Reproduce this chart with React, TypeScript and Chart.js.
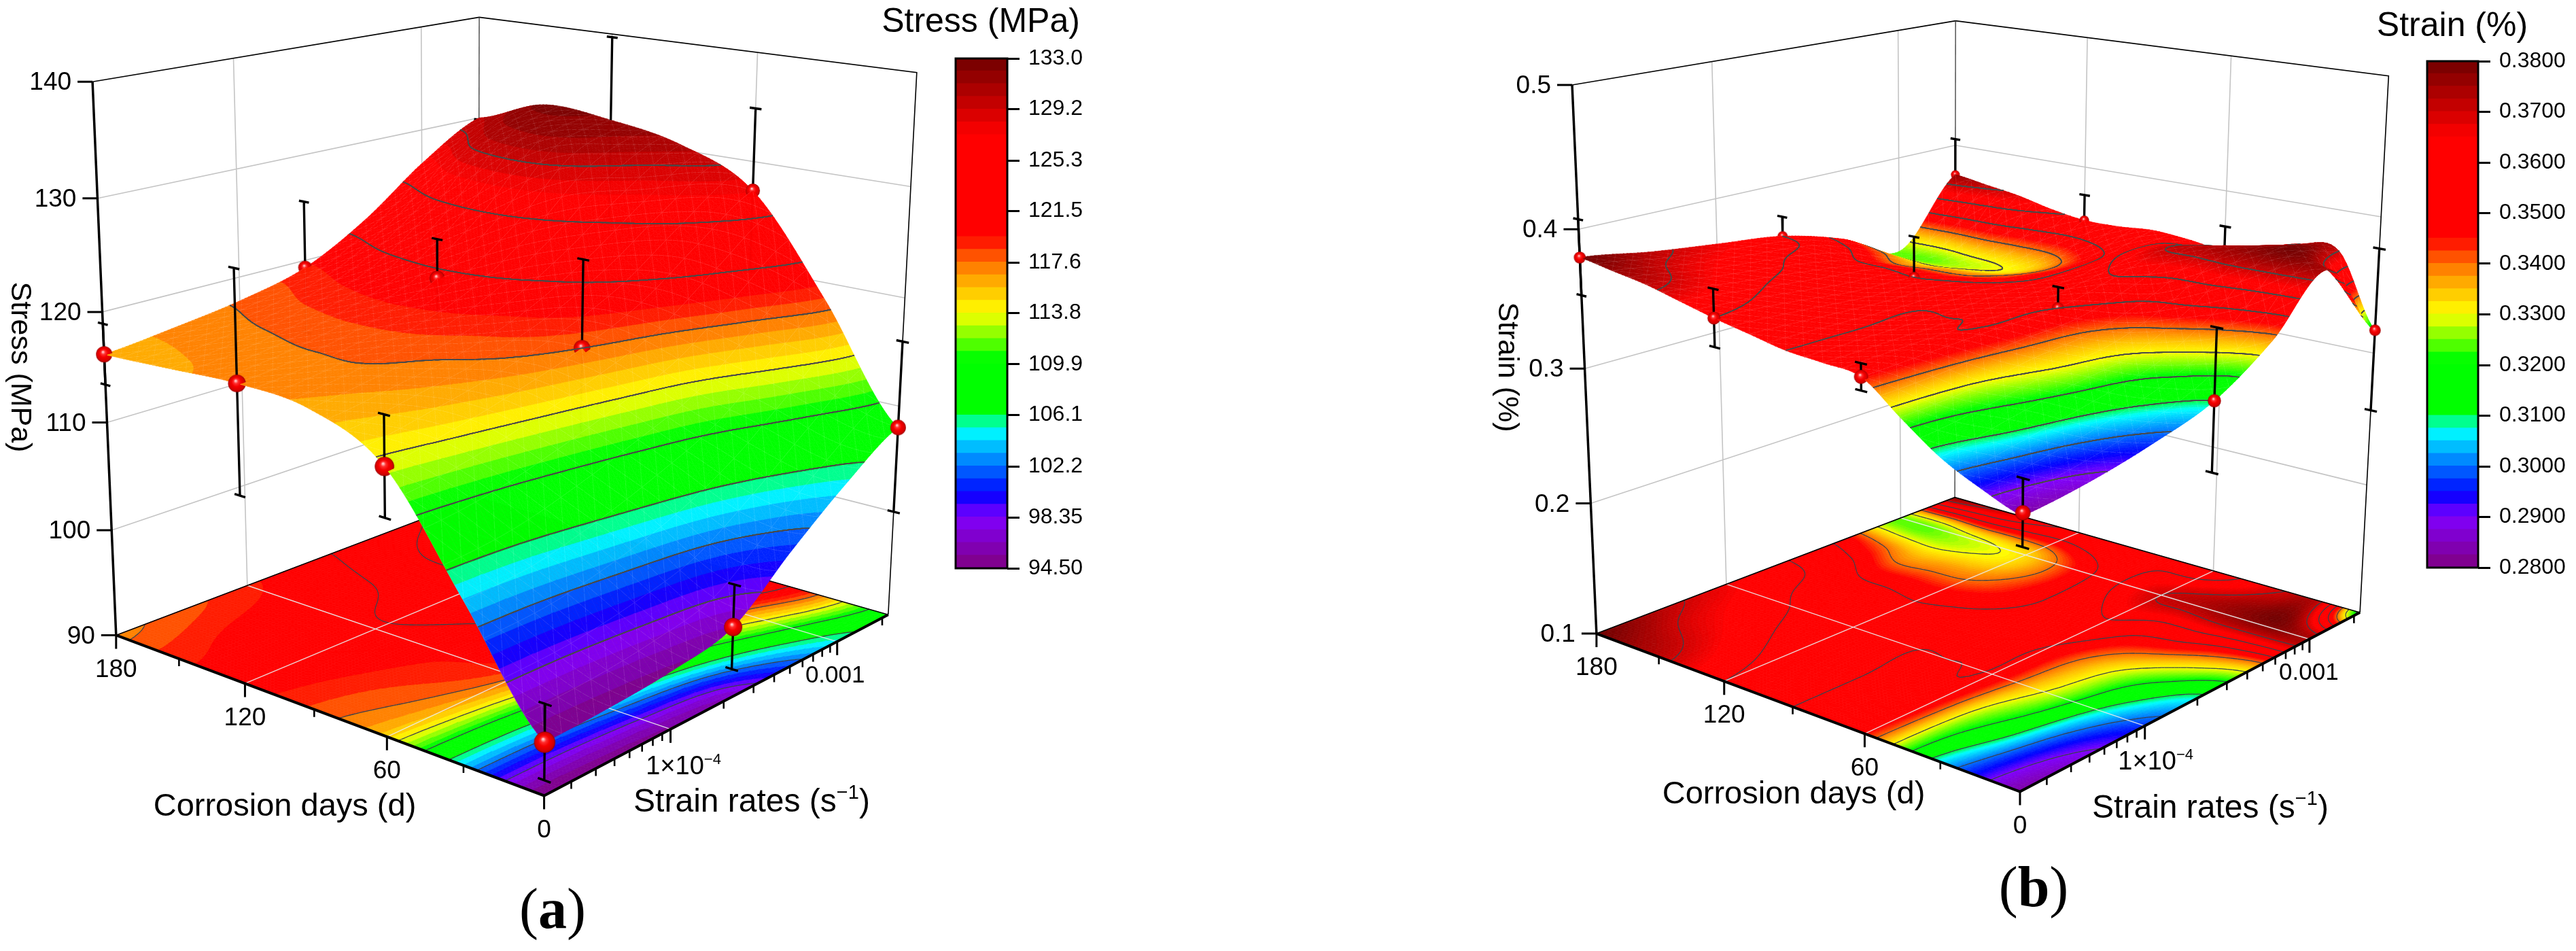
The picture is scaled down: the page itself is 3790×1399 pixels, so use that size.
import React, { useEffect, useRef } from 'react';
import { Chart, registerables } from 'chart.js';
Chart.register(...registerables);

// ---------- data ----------
const measuredDays = [180, 120, 60, 0];
const measuredRates = [2.2e-5, 2.2e-4, 2.2e-3];
const stressMeans = [[116.2, 119.3, 128.8], [116.8, 121, 131], [113.2, 117.6, 127.3], [94.5, 96.4, 108]];
const stressErrors = [[2.75, 6.3, 1], [9.8, 3.6, 8.7], [4.3, 7.8, 7.6], [3.2, 3.8, 8]];
const strainMeans = [[0.38, 0.36, 0.376], [0.36, 0.35, 0.358], [0.345, 0.35, 0.355], [0.285, 0.31, 0.317]];
const strainErrors = [[0.027, 0.015, 0.029], [0.02, 0.03, 0.02], [0.009, 0.015, 0.018], [0.022, 0.05, 0.06]];

// stress surface: rows are days 180,150,...,0; columns are seven log-spaced rates
const stressGrid = [
  [116.2, 116.9, 117.8, 119.3, 122.5, 126.8, 130],
  [116.5, 117.2, 118.5, 120.5, 124.5, 130, 132.3],
  [116.8, 117.5, 118.8, 121, 125, 130.5, 131.8],
  [116.3, 117.2, 118.2, 120.2, 123.5, 127.5, 130.5],
  [113.2, 114.3, 115.8, 117.6, 120, 123.8, 127.3],
  [104, 104.5, 106, 108, 110.5, 114.5, 118.4],
  [94.5, 94.7, 95.2, 96.4, 100.8, 104.8, 108],
];
const stressFloorGrid = [
  [117.3, 118.2, 119.3, 120.8, 123, 125.5, 130],
  [119.2, 120, 120.6, 121.6, 125.5, 130, 132.3],
  [120, 120.4, 121.3, 122.5, 125, 130.5, 131.8],
  [118.3, 119, 120, 121.4, 123.5, 127.5, 130.5],
  [115, 116, 117.7, 119.5, 121, 124, 127.3],
  [104, 104.5, 106, 108, 110.5, 114.5, 118.4],
  [94.5, 94.7, 95.2, 96.4, 100.8, 104.8, 108],
];
// strain surface: rows are days 180,165,...,0; columns are seven log-spaced rates
const strainGrid = [
  [0.38, 0.372, 0.366, 0.36, 0.346, 0.325, 0.376],
  [0.376, 0.368, 0.363, 0.358, 0.342, 0.325, 0.372],
  [0.372, 0.365, 0.36, 0.352, 0.337, 0.328, 0.368],
  [0.366, 0.361, 0.356, 0.351, 0.338, 0.33, 0.362],
  [0.36, 0.357, 0.352, 0.35, 0.339, 0.333, 0.358],
  [0.355, 0.353, 0.351, 0.351, 0.343, 0.341, 0.358],
  [0.35, 0.35, 0.35, 0.352, 0.349, 0.35, 0.36],
  [0.348, 0.349, 0.35, 0.352, 0.355, 0.362, 0.358],
  [0.345, 0.347, 0.349, 0.35, 0.36, 0.37, 0.355],
  [0.325, 0.328, 0.335, 0.34, 0.353, 0.373, 0.362],
  [0.306, 0.315, 0.323, 0.33, 0.35, 0.376, 0.37],
  [0.293, 0.298, 0.307, 0.32, 0.343, 0.378, 0.37],
  [0.283, 0.288, 0.297, 0.31, 0.337, 0.374, 0.317],
];

const majorDays = [180, 120, 60, 0];
const minorDays = [150, 90, 30];
const dayLabels = ['180', '120', '60', '0'];
const rateRange = [2.2e-5, 2.2e-3];
const majorRates = [2.2e-5, 1e-4, 1e-3];
const minorRates = [3e-5, 4e-5, 5e-5, 6e-5, 7e-5, 8e-5, 9e-5, 2e-4, 3e-4, 4e-4, 5e-4, 6e-4, 7e-4, 8e-4, 9e-4, 2e-3];
const stressTicks = [90, 100, 110, 120, 130, 140];
const stressTickLabels = ['90', '100', '110', '120', '130', '140'];
const strainTicks = [0.1, 0.2, 0.3, 0.4, 0.5];
const strainTickLabels = ['0.1', '0.2', '0.3', '0.4', '0.5'];
const stressBarTicks = [94.5, 98.35, 102.2, 106.1, 109.9, 113.8, 117.6, 121.5, 125.3, 129.2, 133];
const stressBarLabels = ['94.50', '98.35', '102.2', '106.1', '109.9', '113.8', '117.6', '121.5', '125.3', '129.2', '133.0'];
const strainBarTicks = [0.28, 0.29, 0.3, 0.31, 0.32, 0.33, 0.34, 0.35, 0.36, 0.37, 0.38];
const strainBarLabels = ['0.2800', '0.2900', '0.3000', '0.3100', '0.3200', '0.3300', '0.3400', '0.3500', '0.3600', '0.3700', '0.3800'];

// ---------- helpers ----------
const SANS = '"Liberation Sans", Arial, sans-serif';
const SERIF = '"Liberation Serif", serif';
const stops: [number, number[]][] = [
  [0, [128, 0, 128]], [0.1, [128, 0, 255]], [0.145, [0, 0, 255]], [0.27, [0, 255, 255]], [0.31, [0, 255, 0]],
  [0.41, [0, 255, 0]], [0.5, [255, 255, 0]], [0.55, [255, 190, 0]], [0.6, [255, 110, 0]], [0.65, [255, 0, 0]], [0.85, [255, 0, 0]], [1, [112, 0, 0]],
];
function cmap(t: number) {
  t = Math.max(0, Math.min(1, t));
  for (let k = 1; k < stops.length; k++) {
    if (t <= stops[k][0]) {
      const [a, ca] = stops[k - 1], [b, cb] = stops[k];
      const f = (t - a) / (b - a || 1);
      return `rgb(${ca.map((c, i) => Math.round(c + (cb[i] - c) * f)).join(',')})`;
    }
  }
  return 'rgb(112,0,0)';
}
function solve(A: number[][], b: number[]) {
  const n = b.length;
  const M = A.map((r, i) => [...r, b[i]]);
  for (let c = 0; c < n; c++) {
    let p = c;
    for (let r = c + 1; r < n; r++) if (Math.abs(M[r][c]) > Math.abs(M[p][c])) p = r;
    [M[c], M[p]] = [M[p], M[c]];
    for (let r = 0; r < n; r++) {
      if (r === c) continue;
      const f = M[r][c] / M[c][c];
      for (let k = c; k <= n; k++) M[r][k] -= f * M[c][k];
    }
  }
  return M.map((r, i) => r[n] / r[i]);
}
function calibrate(c: number[][]) {
  const rows: number[][] = [], rhs: number[] = [];
  for (const [X, Y, Z, x0, y0] of c) {
    const x = x0 / 1000, y = y0 / 1000;
    rows.push([X, Y, Z, 1, 0, 0, 0, 0, -x * X, -x * Y, -x * Z]); rhs.push(x);
    rows.push([0, 0, 0, 0, X, Y, Z, 1, -y * X, -y * Y, -y * Z]); rhs.push(y);
  }
  const N = 11;
  const A = Array.from({ length: N }, (_, i) => Array.from({ length: N }, (_, j) => rows.reduce((s, r) => s + r[i] * r[j], 0)));
  const b = Array.from({ length: N }, (_, i) => rows.reduce((s, r, k) => s + r[i] * rhs[k], 0));
  const p = solve(A, b);
  return (s: number, v: number, w: number) => {
    const d = p[8] * s + p[9] * v + p[10] * w + 1;
    return { x: 1000 * (p[0] * s + p[1] * v + p[2] * w + p[3]) / d, y: 1000 * (p[4] * s + p[5] * v + p[6] * w + p[7]) / d };
  };
}
const cr = (a: number, b: number, c: number, d: number, t: number) =>
  0.5 * (2 * b + (c - a) * t + (2 * a - 5 * b + 4 * c - d) * t * t + (3 * b - a - 3 * c + d) * t * t * t);
function refine(grid: number[][], subR: number, subC: number) {
  const R = grid.length, C = grid[0].length;
  const at = (r: number, c: number) => grid[Math.max(0, Math.min(R - 1, r))][Math.max(0, Math.min(C - 1, c))];
  const out: number[][] = [];
  for (let i = 0; i <= (R - 1) * subR; i++) {
    const row: number[] = [];
    const r0 = Math.min(Math.floor(i / subR), R - 2), tr = i / subR - r0;
    for (let j = 0; j <= (C - 1) * subC; j++) {
      const c0 = Math.min(Math.floor(j / subC), C - 2), tc = j / subC - c0;
      const q = [-1, 0, 1, 2].map(k => cr(at(r0 - 1, c0 + k), at(r0, c0 + k), at(r0 + 1, c0 + k), at(r0 + 2, c0 + k), tr));
      row.push(cr(q[0], q[1], q[2], q[3], tc));
    }
    out.push(row);
  }
  return out;
}
function sphere(r: number) {
  const cv = document.createElement('canvas');
  const S = Math.ceil(2 * r + 2);
  cv.width = S; cv.height = S;
  const c = cv.getContext('2d')!;
  const g = c.createRadialGradient(S / 2 - r * 0.15, S / 2 - r * 0.3, r * 0.05, S / 2, S / 2, r);
  g.addColorStop(0, '#ffd0d0'); g.addColorStop(0.22, '#ff3030'); g.addColorStop(0.5, '#f50000');
  g.addColorStop(0.85, '#d40000'); g.addColorStop(1, '#950000');
  c.fillStyle = g;
  c.beginPath(); c.arc(S / 2, S / 2, r, 0, Math.PI * 2); c.fill();
  return cv;
}
type Piece = { t: string; font: string; dy?: number };
function textRun(ctx: CanvasRenderingContext2D, pieces: Piece[], cx: number, cy: number) {
  ctx.textBaseline = 'alphabetic'; ctx.textAlign = 'left';
  let W = 0;
  for (const p of pieces) { ctx.font = p.font; W += ctx.measureText(p.t).width; }
  let x = cx - W / 2;
  for (const p of pieces) { ctx.font = p.font; ctx.fillText(p.t, x, cy + (p.dy || 0)); x += ctx.measureText(p.t).width; }
}

// ---------- panel layout ----------
const MESH = 5;
const panelA: any = {
  xRange: [0, 1895], subR: 20, subC: 20,
  calib: [[0, 0, 1, 136, 119], [0, 0, 0, 169, 934], [0, 1, 1, 705, 27], [0, 1, 0, 704, 732], [1, 0, 0, 805, 1169], [1, 1, 1, 1349, 106], [1, 1, 0, 1311, 901],
    [1 / 3, 0, 0, 362, 1006], [2 / 3, 0, 0, 571, 1084], [1, 0.33, 0, 980, 1075], [1, 0.83, 0, 1229, 946]],
  zRange: [90, 140], grid: stressGrid, floorGrid: stressFloorGrid, means: stressMeans, errors: stressErrors,
  barRange: [94.5, 133], levels: stressBarTicks.slice(1, -1), bands: 40,
  zTicks: stressTicks, zLabels: stressTickLabels,
  zTitle: 'Stress (MPa)', zTitlePos: [29, 540],
  barTitle: 'Stress (MPa)', barTitlePos: [1443, 33],
  dayTitlePos: [419, 1200], rateTitlePos: [1106, 1194],
  rateLabelOffset: [[0, 0], [19, 66], [-3, 60]],
  panelLabel: 'a', panelLabelPos: [813, 1365],
  radius: [8.5, 13.5],
};
const panelB: any = {
  xRange: [1895, 3790], subR: 10, subC: 20,
  calib: [[0, 0, 1, 2313, 124], [0, 0, 0, 2348, 932], [0, 1, 1, 2877, 32], [0, 1, 0, 2877, 731], [1, 0, 0, 2977, 1162], [1, 1, 1, 3514.5, 111], [1, 1, 0, 3477, 898],
    [1 / 3, 0, 0, 2536, 1003], [2 / 3, 0, 0, 2745, 1078.5], [1, 0.33, 0, 3151, 1072], [1, 0.83, 0, 3393, 942]],
  zRange: [0.1, 0.5], grid: strainGrid, floorGrid: strainGrid, means: strainMeans, errors: strainErrors,
  barRange: [0.28, 0.38], levels: strainBarTicks.slice(1, -1), bands: 130,
  zTicks: strainTicks, zLabels: strainTickLabels,
  zTitle: 'Strain (%)', zTitlePos: [2217, 540],
  barTitle: 'Strain (%)', barTitlePos: [3608, 39],
  dayTitlePos: [2639, 1182], rateTitlePos: [3252, 1203],
  rateLabelOffset: [[0, 0], [16, 64], [-1, 60]],
  panelLabel: 'b', panelLabelPos: [2992, 1333],
  radius: [6.5, 10],
};

type V = { x: number; y: number; z: number };
function clipPoly(poly: V[], L: number, above: boolean) {
  const out: V[] = [];
  for (let k = 0; k < poly.length; k++) {
    const a = poly[k], b = poly[(k + 1) % poly.length];
    const ina = above ? a.z >= L : a.z <= L, inb = above ? b.z >= L : b.z <= L;
    if (ina) out.push(a);
    if (ina !== inb) {
      const f = (L - a.z) / (b.z - a.z);
      out.push({ x: a.x + (b.x - a.x) * f, y: a.y + (b.y - a.y) * f, z: L });
    }
  }
  return out;
}

function buildMain(canvas: HTMLCanvasElement, P: any) {
  const proj = calibrate(P.calib);
  const [zMin, zMax] = P.zRange;
  const W = (z: number) => (z - zMin) / (zMax - zMin);
  const S = (d: number) => (180 - d) / 180;
  const lr = (r: number) => (Math.log10(r) - Math.log10(rateRange[0])) / (Math.log10(rateRange[1]) - Math.log10(rateRange[0]));
  const F = refine(P.grid, P.subR, P.subC);
  const G = refine(P.floorGrid, P.subR, P.subC);
  const n = F.length - 1, m = F[0].length - 1;
  const GAP = { x: NaN, y: NaN };

  const list: any[] = [];
  const line = (data: any[], color: string, width: number, extra: any = {}) => {
    const d = { data, borderColor: color, backgroundColor: color, borderWidth: width, showLine: true, pointRadius: 0, tension: 0, ...extra };
    list.push(d);
    return d;
  };
  const seg = (segs: { x: number; y: number }[][]) => segs.flatMap((s, i) => (i ? [GAP, ...s] : s));

  // walls
  const wallGrid: any[][] = [];
  for (const z of P.zTicks.slice(1, -1)) {
    wallGrid.push([proj(0, 0, W(z)), proj(0, 1, W(z)), proj(1, 1, W(z))]);
  }
  for (const r of majorRates.slice(1)) wallGrid.push([proj(0, lr(r), 0), proj(0, lr(r), 1)]);
  for (const d of majorDays.slice(1, -1)) wallGrid.push([proj(S(d), 1, 0), proj(S(d), 1, 1)]);
  line(seg(wallGrid), '#c4c4c4', 1.6);
  line([proj(0, 0, 1), proj(0, 1, 1), proj(1, 1, 1), proj(1, 1, 0)], '#000', 1.6);
  line([proj(0, 1, 1), proj(0, 1, 0)], '#444', 1.4);
  line([proj(0, 0, 1), proj(0, 0, 0)], '#000', 3.5);
  const zTickSegs = P.zTicks.map((z: number) => { const a = proj(0, 0, W(z)); return [a, { x: a.x - 22, y: a.y }]; });
  line(seg(zTickSegs), '#000', 3);

  // floor (painted by the plugin just before this grid)
  const floorGrid: any[][] = [];
  for (const r of majorRates.slice(1)) floorGrid.push([proj(0, lr(r), 0), proj(1, lr(r), 0)]);
  for (const d of majorDays.slice(1, -1)) floorGrid.push([proj(S(d), 0, 0), proj(S(d), 1, 0)]);
  line(seg(floorGrid), 'rgba(235,235,235,0.9)', 1.4, { stage: 'floor' });
  line([proj(0, 0, 0), proj(0, 1, 0), proj(1, 1, 0)], '#000', 1.6);
  line([proj(0, 0, 0), proj(1, 0, 0), proj(1, 1, 0)], '#000', 4);
  const major = [
    ...majorDays.map(d => { const a = proj(S(d), 0, 0); return [a, { x: a.x, y: a.y + 20 }]; }),
    ...majorRates.slice(1).map(r => { const a = proj(1, lr(r), 0); return [a, { x: a.x, y: a.y + 20 }]; }),
  ];
  const minor = [
    ...minorDays.map(d => { const a = proj(S(d), 0, 0); return [a, { x: a.x, y: a.y + 11 }]; }),
    ...minorRates.map(r => { const a = proj(1, lr(r), 0); return [a, { x: a.x, y: a.y + 11 }]; }),
  ];
  line(seg(major), '#000', 3);
  line(seg(minor), '#000', 2.6);

  // lower error bars (the surface may then cover them)
  const ds = 0.013;
  const lowers: any[][] = [];
  measuredDays.forEach((d, i) => measuredRates.forEach((r, j) => {
    const s = S(d), v = lr(r), z = P.means[i][j], e = P.errors[i][j];
    lowers.push([proj(s, v, W(z)), proj(s, v, W(z - e))]);
    lowers.push([proj(s - ds, v, W(z - e)), proj(s + ds, v, W(z - e))]);
  }));
  line(seg(lowers), '#000', 3.4);

  // upper error bars with the spheres, in painter's order among the surface cells
  const marks: any[] = [];
  measuredDays.forEach((d, i) => measuredRates.forEach((r, j) => {
    const s = S(d), v = lr(r), z = P.means[i][j], e = P.errors[i][j];
    const h = Math.abs(proj(s, v, 0).y - proj(s, v, 1).y);
    const rad = P.radius[0] + (P.radius[1] - P.radius[0]) * Math.max(0, (h - 700) / 165);
    const key = Math.round(s * n) * m + (m - Math.round(v * m));
    const top = proj(s, v, W(z + e));
    marks.push({ key, data: [proj(s - ds, v, W(z + e)), proj(s + ds, v, W(z + e)), top, proj(s, v, W(z))], rad });
  }));
  marks.sort((a, b) => a.key - b.key);
  for (const k of marks) {
    line(k.data, '#000', 3.4, {
      paintTo: k.key,
      pointStyle: sphere(k.rad),
      pointRadius: (c: any) => (c.dataIndex === 3 ? k.rad : 0),
    });
  }
  list.forEach((d, k) => { d.order = list.length - k; });

  let painted = 0;
  let pixels: any = null;
  const B = P.bands, z0 = P.barRange[0], dz = (P.barRange[1] - P.barRange[0]) / B;
  const bandColors = Array.from({ length: B }, (_, k) => cmap((k + 0.5) / B));
  const bandOf = (z: number) => Math.max(0, Math.min(B - 1, Math.floor((z - z0) / dz)));
  const eps = (P.barRange[1] - P.barRange[0]) * 1.3e-6;
  const fillPoly = (ctx: any, poly: V[], col: string) => {
    if (poly.length < 3) return;
    ctx.fillStyle = col; ctx.strokeStyle = col; ctx.lineWidth = 0.7;
    ctx.beginPath();
    ctx.moveTo(poly[0].x, poly[0].y);
    for (let k = 1; k < poly.length; k++) ctx.lineTo(poly[k].x, poly[k].y);
    ctx.closePath(); ctx.fill(); ctx.stroke();
  };
  const tri = (ctx: any, t: V[]) => {
    const lo = bandOf(Math.min(t[0].z, t[1].z, t[2].z)), hi = bandOf(Math.max(t[0].z, t[1].z, t[2].z));
    if (lo === hi) { fillPoly(ctx, t, bandColors[lo]); return; }
    for (let k = lo; k <= hi; k++) {
      let poly = t;
      if (k > lo) poly = clipPoly(poly, z0 + k * dz, true);
      if (k < hi) poly = clipPoly(poly, z0 + (k + 1) * dz, false);
      fillPoly(ctx, poly, bandColors[k]);
    }
  };
  const cellFill = (ctx: any, Z: number[][], i: number, j: number, pts: any[][]) => {
    const v = (a: number, b: number): V => ({ x: pts[a][b].x, y: pts[a][b].y, z: Z[a][b] });
    const a = v(i, j), b = v(i + 1, j), c = v(i + 1, j + 1), d = v(i, j + 1);
    tri(ctx, [a, b, c]);
    tri(ctx, [a, c, d]);
  };
  const contour = (ctx: any, Z: number[][], i: number, j: number, pts: any[][], width: number, col: string) => {
    if (i < 0 || j < 0 || i >= n || j >= m) return;
    const a = Z[i][j], b = Z[i + 1][j], c = Z[i + 1][j + 1], d = Z[i][j + 1];
    const lo = Math.min(a, b, c, d), hi = Math.max(a, b, c, d);
    for (const L0 of P.levels) {
      const L = L0 + eps;
      if (L < lo || L > hi) continue;
      const cross: number[][] = [];
      const edge = (z1: number, z2: number, p1: any, p2: any) => {
        if ((z1 - L) * (z2 - L) < 0) {
          const f = (L - z1) / (z2 - z1);
          cross.push([p1.x + (p2.x - p1.x) * f, p1.y + (p2.y - p1.y) * f]);
        }
      };
      edge(a, b, pts[i][j], pts[i + 1][j]);
      edge(b, c, pts[i + 1][j], pts[i + 1][j + 1]);
      edge(c, d, pts[i + 1][j + 1], pts[i][j + 1]);
      edge(d, a, pts[i][j + 1], pts[i][j]);
      if (cross.length >= 2) {
        ctx.strokeStyle = col; ctx.lineWidth = width;
        ctx.beginPath();
        ctx.moveTo(cross[0][0], cross[0][1]); ctx.lineTo(cross[1][0], cross[1][1]);
        if (cross.length === 4) { ctx.moveTo(cross[2][0], cross[2][1]); ctx.lineTo(cross[3][0], cross[3][1]); }
        ctx.stroke();
      }
    }
  };
  const mesh = (ctx: any, i: number, j: number, pts: any[][]) => {
    const k = MESH;
    ctx.strokeStyle = 'rgba(255,255,255,0.13)'; ctx.lineWidth = 1;
    ctx.beginPath();
    if (i % k === 0) { ctx.moveTo(pts[i][j].x, pts[i][j].y); ctx.lineTo(pts[i][j + 1].x, pts[i][j + 1].y); }
    if (j % k === 0) { ctx.moveTo(pts[i][j].x, pts[i][j].y); ctx.lineTo(pts[i + 1][j].x, pts[i + 1][j].y); }
    if ((i + j + 1) % k === 0) { ctx.moveTo(pts[i + 1][j].x, pts[i + 1][j].y); ctx.lineTo(pts[i][j + 1].x, pts[i][j + 1].y); }
    if (((i - j) % k + k) % k === 0) { ctx.moveTo(pts[i][j].x, pts[i][j].y); ctx.lineTo(pts[i + 1][j + 1].x, pts[i + 1][j + 1].y); }
    ctx.stroke();
  };
  const ensurePixels = (chart: any) => {
    if (pixels) return pixels;
    const xs = chart.scales.x, ys = chart.scales.y;
    const map = (w: (i: number, j: number) => number) => F.map((row, i) => row.map((_, j) => {
      const p = proj(i / n, j / m, w(i, j));
      return { x: xs.getPixelForValue(p.x), y: ys.getPixelForValue(p.y) };
    }));
    pixels = { floor: map(() => 0), surf: map((i, j) => W(F[i][j])) };
    return pixels;
  };
  const surfacePlugin = {
    id: 'surfacePainter',
    beforeDatasetDraw(chart: any, args: any) {
      const d2 = chart.data.datasets[args.index];
      const ctx = chart.ctx;
      const px = ensurePixels(chart);
      if (d2.stage === 'floor') {
        for (let i = 0; i < n; i++) for (let j = 0; j < m; j++) cellFill(ctx, G, i, j, px.floor);
        for (let i = 0; i < n; i++) for (let j = 0; j < m; j++) contour(ctx, G, i, j, px.floor, 1.3, '#39434d');
      }
      if (d2.paintTo !== undefined) {
        const target = Math.min(d2.paintTo, n * m);
        const cLine = (i: number, j: number) => contour(ctx, F, i, j, px.surf, 1.5, '#4a4a4a');
        while (painted < target) {
          const i = Math.floor(painted / m), j = m - 1 - (painted % m);
          cellFill(ctx, F, i, j, px.surf);
          mesh(ctx, i, j, px.surf);
          // this cell and the already painted neighbours it may have clipped
          cLine(i, j); cLine(i, j + 1); cLine(i - 1, j); cLine(i - 1, j + 1); cLine(i - 1, j - 1);
          painted++;
        }
      }
    },
    beforeDraw() { painted = 0; },
  };
  const labelPlugin = {
    id: 'panelLabels',
    afterDatasetsDraw(chart: any) {
      const ctx = chart.ctx;
      const X = (v: number) => chart.scales.x.getPixelForValue(v);
      const Y = (v: number) => chart.scales.y.getPixelForValue(v);
      ctx.save();
      ctx.fillStyle = '#000';
      P.zTicks.forEach((z: number, i: number) => {
        const a = proj(0, 0, W(z));
        ctx.font = `37px ${SANS}`; ctx.textAlign = 'right'; ctx.textBaseline = 'middle';
        ctx.fillText(P.zLabels[i], X(a.x - 31), Y(a.y + 2));
      });
      majorDays.forEach((d, i) => {
        const a = proj(S(d), 0, 0);
        ctx.font = `37px ${SANS}`; ctx.textAlign = 'center'; ctx.textBaseline = 'middle';
        ctx.fillText(dayLabels[i], X(a.x), Y(a.y + 51));
      });
      const sm = `22px ${SANS}`;
      {
        const a = proj(1, lr(majorRates[1]), 0), o = P.rateLabelOffset[1];
        textRun(ctx, [{ t: '1×10', font: `38px ${SANS}` }, { t: '−4', font: sm, dy: -15 }], X(a.x + o[0]), Y(a.y + o[1]));
        const b = proj(1, lr(majorRates[2]), 0), o2 = P.rateLabelOffset[2];
        textRun(ctx, [{ t: '0.001', font: `35px ${SANS}` }], X(b.x + o2[0]), Y(b.y + o2[1]));
      }
      textRun(ctx, [{ t: 'Corrosion days (d)', font: `47px ${SANS}` }], X(P.dayTitlePos[0]), Y(P.dayTitlePos[1]));
      const tf = `48px ${SANS}`;
      textRun(ctx, [{ t: 'Strain rates (s', font: tf }, { t: '−1', font: `29px ${SANS}`, dy: -19 }, { t: ')', font: tf }], X(P.rateTitlePos[0]), Y(P.rateTitlePos[1]));
      ctx.save();
      ctx.translate(X(P.zTitlePos[0]), Y(P.zTitlePos[1]));
      ctx.rotate(Math.PI / 2);
      ctx.font = `43px ${SANS}`; ctx.textAlign = 'center'; ctx.textBaseline = 'middle';
      ctx.fillText(P.zTitle, 0, 0);
      ctx.restore();
      ctx.font = `50px ${SANS}`; ctx.textAlign = 'center'; ctx.textBaseline = 'middle';
      ctx.fillText(P.barTitle, X(P.barTitlePos[0]), Y(P.barTitlePos[1]));
      textRun(ctx, [
        { t: '(', font: `84px ${SERIF}` },
        { t: P.panelLabel, font: `bold 84px ${SERIF}` },
        { t: ')', font: `84px ${SERIF}` },
      ], X(P.panelLabelPos[0]), Y(P.panelLabelPos[1]));
      ctx.restore();
    },
  };
  return new Chart(canvas, {
    type: 'scatter',
    data: { datasets: list },
    options: {
      animation: false, responsive: false, events: [],
      layout: { padding: 0, autoPadding: false },
      plugins: { legend: { display: false }, tooltip: { enabled: false } },
      scales: {
        x: { type: 'linear', display: false, min: P.xRange[0], max: P.xRange[1] },
        y: { type: 'linear', display: false, min: 0, max: 1399, reverse: true },
      },
    },
    plugins: [surfacePlugin, labelPlugin],
  } as any);
}

const BAR_PAD = 34;
function buildBar(canvas: HTMLCanvasElement, range: number[], ticks: number[], labels: string[], axisW: number) {
  const N = 40;
  const step = (range[1] - range[0]) / N;
  const datasets = Array.from({ length: N }, (_, k) => ({
    data: [[range[0] + k * step, Math.min(range[1], range[0] + (k + 1.03) * step)]],
    backgroundColor: cmap((k + 0.5) / N),
    borderWidth: 0,
    barPercentage: 1,
    categoryPercentage: 1,
    grouped: false,
  }));
  const frame = {
    id: 'frame',
    afterDraw(chart: any) {
      const { left, top, width, height } = chart.chartArea;
      chart.ctx.save();
      chart.ctx.strokeStyle = '#000'; chart.ctx.lineWidth = 3;
      chart.ctx.strokeRect(left, top, width, height);
      chart.ctx.restore();
    },
  };
  return new Chart(canvas, {
    type: 'bar',
    data: { labels: [''], datasets },
    options: {
      animation: false, responsive: false, events: [],
      layout: { padding: { left: 2, top: BAR_PAD, bottom: BAR_PAD, right: 0 } },
      plugins: { legend: { display: false }, tooltip: { enabled: false } },
      scales: {
        x: { display: false },
        y: {
          position: 'right', min: range[0], max: range[1],
          afterBuildTicks: (ax: any) => { ax.ticks = ticks.map(v => ({ value: v })); },
          afterFit: (ax: any) => { ax.width = axisW; },
          ticks: {
            autoSkip: false, padding: 13, color: '#000',
            font: { size: 32, family: SANS },
            callback: (_: any, i: number) => labels[i],
          },
          grid: { drawOnChartArea: false, drawTicks: true, tickLength: 18, tickWidth: 3, tickColor: '#000' },
          border: { display: false },
        },
      },
    },
    plugins: [frame],
  } as any);
}

export default function App() {
  const a = useRef<HTMLCanvasElement>(null);
  const b = useRef<HTMLCanvasElement>(null);
  const ca = useRef<HTMLCanvasElement>(null);
  const cb = useRef<HTMLCanvasElement>(null);
  useEffect(() => {
    const charts = [
      buildMain(a.current!, panelA),
      buildMain(b.current!, panelB),
      buildBar(ca.current!, [94.5, 133], stressBarTicks, stressBarLabels, 140),
      buildBar(cb.current!, [0.28, 0.38], strainBarTicks, strainBarLabels, 144),
    ];
    return () => charts.forEach(c => c.destroy());
  }, []);
  const abs = (l: number, t: number): React.CSSProperties => ({ position: 'absolute', left: l, top: t, display: 'block' });
  return (
    <div style={{ position: 'absolute', left: 0, top: 0, width: 3790, height: 1399, background: '#fff', overflow: 'hidden' }}>
      <canvas ref={a} width={1895} height={1399} style={abs(0, 0)} />
      <canvas ref={b} width={1895} height={1399} style={abs(1895, 0)} />
      <canvas ref={ca} width={218} height={750 + 2 * BAR_PAD} style={abs(1404, 86 - BAR_PAD)} />
      <canvas ref={cb} width={221} height={745 + 2 * BAR_PAD} style={abs(3569, 90 - BAR_PAD)} />
    </div>
  );
}
